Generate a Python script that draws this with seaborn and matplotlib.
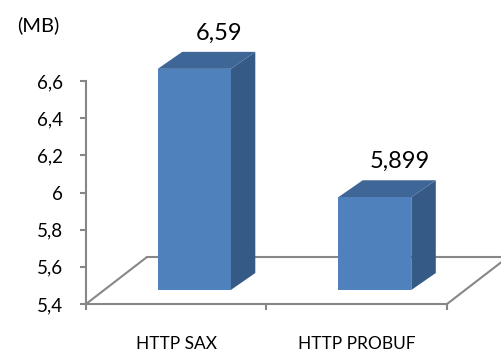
import matplotlib
matplotlib.use("Agg")
import matplotlib.pyplot as plt
import seaborn as sns
import pandas as pd
from matplotlib.transforms import offset_copy, IdentityTransform
from matplotlib.patches import Polygon
from matplotlib.lines import Line2D
from matplotlib.ticker import FixedLocator, FuncFormatter

categories = ["HTTP SAX", "HTTP PROBUF"]
sizes_mb = [6.59, 5.899]
y_ticks = [5.4, 5.6, 5.8, 6.0, 6.2, 6.4, 6.6]
unit_label = "(MB)"

sns.set_theme(style="white")
plt.rcParams["font.family"] = ["Lato", "DejaVu Sans"]

W, H, DPI = 502, 356, 100
fig = plt.figure(figsize=(W / DPI, H / DPI), dpi=DPI)
fig.patch.set_facecolor("white")

# plot box in pixels: left, top, right, bottom
L, T, R, B = 86, 81, 447, 304
ax = fig.add_axes([L / W, 1 - B / H, (R - L) / W, (B - T) / H])
ax.set_facecolor("none")

FRONT = (18, 14)     # front face shift (px)
DEPTH = (24.5, 17)   # bar depth (px)
FLOOR = (61, 47)     # floor depth (px)
GREY = "#878787"
C_FRONT, C_SIDE, C_TOP = "#4F81BD", "#365A86", "#3E6797"
comma = lambda v: f"{v:g}".replace(".", ",")

df = pd.DataFrame({"protocol": categories, "size": sizes_mb})
sns.barplot(data=df, x="protocol", y="size", width=0.405, color=C_FRONT,
            saturation=1, linewidth=0, zorder=3, ax=ax)

ax.set_xlim(-0.5, len(categories) - 0.5)
ax.set_ylim(y_ticks[0], y_ticks[-1])
y0 = y_ticks[0]

front_tr = offset_copy(ax.transData, fig=fig, x=FRONT[0], y=FRONT[1], units="dots")
ident = IdentityTransform()
for p in ax.patches[:len(categories)]:
    top = p.get_y() + p.get_height()
    p.set_y(y0)
    p.set_height(top - y0)
    p.set_transform(front_tr)
    p.set_clip_on(False)
    x0, x1 = p.get_x(), p.get_x() + p.get_width()
    (ax0, ay0), (ax1, ay1) = ax.transData.transform([(x0, y0), (x1, top)])
    ax0 += FRONT[0]; ax1 += FRONT[0]; ay0 += FRONT[1]; ay1 += FRONT[1]
    dx, dy = DEPTH
    side = Polygon([(ax1, ay0), (ax1, ay1), (ax1 + dx, ay1 + dy), (ax1 + dx, ay0 + dy)],
                   closed=True, facecolor=C_SIDE, edgecolor="none",
                   transform=ident, clip_on=False, zorder=2.5)
    lid = Polygon([(ax0, ay1), (ax1, ay1), (ax1 + dx, ay1 + dy), (ax0 + dx, ay1 + dy)],
                  closed=True, facecolor=C_TOP, edgecolor="none",
                  transform=ident, clip_on=False, zorder=2.5)
    ax.add_patch(side)
    ax.add_patch(lid)

# floor outline behind the bars
(fx0, fy), (fx1, _) = ax.transData.transform([(-0.5, y0), (len(categories) - 0.5, y0)])
fdx, fdy = FLOOR
for xs, ys in [([fx0, fx0 + fdx], [fy, fy + fdy]),
               ([fx0 + fdx, fx1 + fdx], [fy + fdy, fy + fdy]),
               ([fx1, fx1 + fdx], [fy, fy + fdy])]:
    ax.add_line(Line2D(xs, ys, transform=ident, color=GREY, lw=1.5,
                       clip_on=False, zorder=1))

# value labels
for i, v in enumerate(sizes_mb):
    ax.annotate(comma(v), xy=(i, v), xytext=(43, 50), textcoords="offset pixels",
                ha="center", va="center", fontsize=17, color="black",
                annotation_clip=False)

# axes styling
for s in ["top", "right"]:
    ax.spines[s].set_visible(False)
for s in ["left", "bottom"]:
    ax.spines[s].set_color(GREY)
    ax.spines[s].set_linewidth(1.5)

ax.set_yticks(y_ticks)
ax.yaxis.set_major_formatter(FuncFormatter(lambda v, _: comma(round(v, 2))))
ax.tick_params(axis="y", left=True, length=4.3, width=1.5, color=GREY,
               pad=12, labelsize=13.5, labelcolor="black")
ax.xaxis.set_minor_locator(FixedLocator([i - 0.5 for i in range(len(categories) + 1)]))
ax.tick_params(axis="x", which="minor", bottom=True, length=4.3, width=1.5, color=GREY)
ax.tick_params(axis="x", which="major", bottom=True, length=0, pad=23,
               labelsize=12.5, labelcolor="black")
ax.set_xlabel("")
ax.set_ylabel("")

fig.text(38 / W, 1 - 25 / H, unit_label, ha="center", va="center", fontsize=14.5, color="black")

fig.savefig("out.png", dpi=DPI, facecolor="white")
